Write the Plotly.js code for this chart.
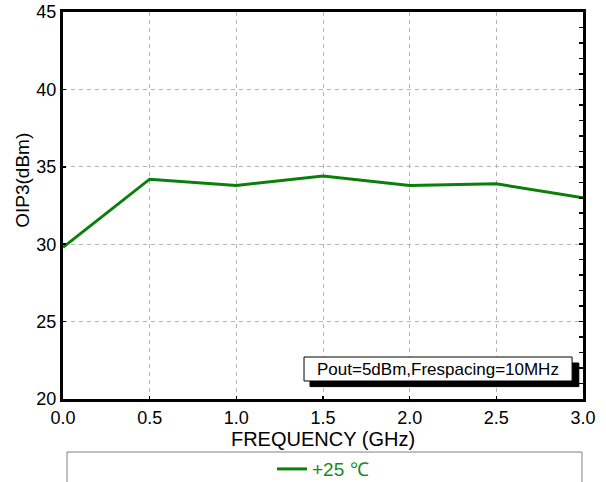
<!DOCTYPE html>
<html>
<head>
<meta charset="utf-8">
<script src="https://cdn.plot.ly/plotly-3.0.1.min.js"></script>
<style>html,body{margin:0;padding:0;background:#fff;}</style>
</head>
<body>
<div id="chart" style="width:606px;height:482px;"></div>
<script>
const freqGHz = [0.0, 0.5, 1.0, 1.5, 2.0, 2.5, 3.0];
const oip3 = [29.8, 34.2, 33.8, 34.4, 33.8, 33.9, 33.0];
const seriesName = '+25 \u2103';
const xTicks = [0, 0.5, 1.0, 1.5, 2.0, 2.5, 3.0];
const xTickText = ['0.0', '0.5', '1.0', '1.5', '2.0', '2.5', '3.0'];
const yTicks = [20, 25, 30, 35, 40, 45];
const noteText = 'Pout=5dBm,Frespacing=10MHz';

const FONT = 'Liberation Sans, Arial, sans-serif';
const gridDash = '4px,4px';

const traces = [
  {
    x: freqGHz, y: oip3, type: 'scatter', mode: 'lines', name: seriesName,
    line: {color: '#0a800a', width: 3},
    showlegend: true
  },
  {
    x: [freqGHz[0]], y: [oip3[0]], yaxis: 'y2', type: 'scatter', mode: 'none',
    showlegend: false, hoverinfo: 'skip'
  }
];

const layout = {
  width: 606, height: 482,
  margin: {l: 63, r: 23, t: 12, b: 83, autoexpand: false},
  paper_bgcolor: '#ffffff', plot_bgcolor: '#ffffff',
  font: {family: FONT, color: '#000', size: 18},
  showlegend: true,
  legend: {
    orientation: 'h', x: 0.5, xanchor: 'center', y: -0.181, yanchor: 'middle',
    font: {family: FONT, size: 19, color: '#1a8a1a'},
    bgcolor: 'rgba(0,0,0,0)', borderwidth: 0
  },
  xaxis: {
    range: [0, 3], tickvals: xTicks, ticktext: xTickText,
    showgrid: true, gridcolor: '#b4b4b4', griddash: gridDash, gridwidth: 1,
    showline: true, linecolor: '#000', linewidth: 3, mirror: true,
    ticks: 'inside', ticklen: 3, tickwidth: 1.5, tickcolor: '#000',
    zeroline: false, automargin: false,
    tickfont: {family: FONT, size: 18, color: '#000'},
    title: {text: 'FREQUENCY (GHz)', font: {family: FONT, size: 20, color: '#000'}, standoff: 6}
  },
  yaxis: {
    range: [20, 45], tickvals: yTicks,
    showgrid: true, gridcolor: '#b4b4b4', griddash: gridDash, gridwidth: 1,
    showline: true, linecolor: '#000', linewidth: 3, mirror: true,
    ticks: 'inside', ticklen: 3, tickwidth: 1.5, tickcolor: '#000',
    zeroline: false, automargin: false,
    tickfont: {family: FONT, size: 18, color: '#000'}
  },
  yaxis2: {
    overlaying: 'y', side: 'right', range: [20, 45], dtick: 1, tick0: 20,
    showgrid: false, zeroline: false, showticklabels: false, showline: false,
    ticks: 'inside', ticklen: 4, tickwidth: 1.5, tickcolor: '#000'
  },
  shapes: [
    {type: 'rect', xref: 'paper', yref: 'paper',
     x0: 0.0077, x1: 0.998, y0: -0.137, y1: -0.4,
     line: {color: '#808080', width: 1}, fillcolor: 'rgba(0,0,0,0)'},
    {type: 'rect', xref: 'paper', yref: 'paper',
     x0: 0.475, x1: 0.992, y0: 0.093, y1: 0.032,
     line: {color: '#000', width: 1}, fillcolor: '#000'},
    {type: 'rect', xref: 'paper', yref: 'paper',
     x0: 0.4635, x1: 0.979, y0: 0.1085, y1: 0.0465,
     line: {color: '#000', width: 1}, fillcolor: '#fff'}
  ],
  annotations: [
    {text: noteText, xref: 'paper', yref: 'paper', x: 0.721, y: 0.0775,
     xanchor: 'center', yanchor: 'middle', showarrow: false,
     font: {family: FONT, size: 17, color: '#000'}},
    {text: 'OIP3(dBm)', xref: 'paper', yref: 'paper', x: -0.078, y: 0.565,
     xanchor: 'center', yanchor: 'middle', showarrow: false, textangle: -90,
     font: {family: FONT, size: 19, color: '#000'}}
  ]
};

Plotly.newPlot('chart', traces, layout, {displayModeBar: false, staticPlot: true});
</script>
</body>
</html>
